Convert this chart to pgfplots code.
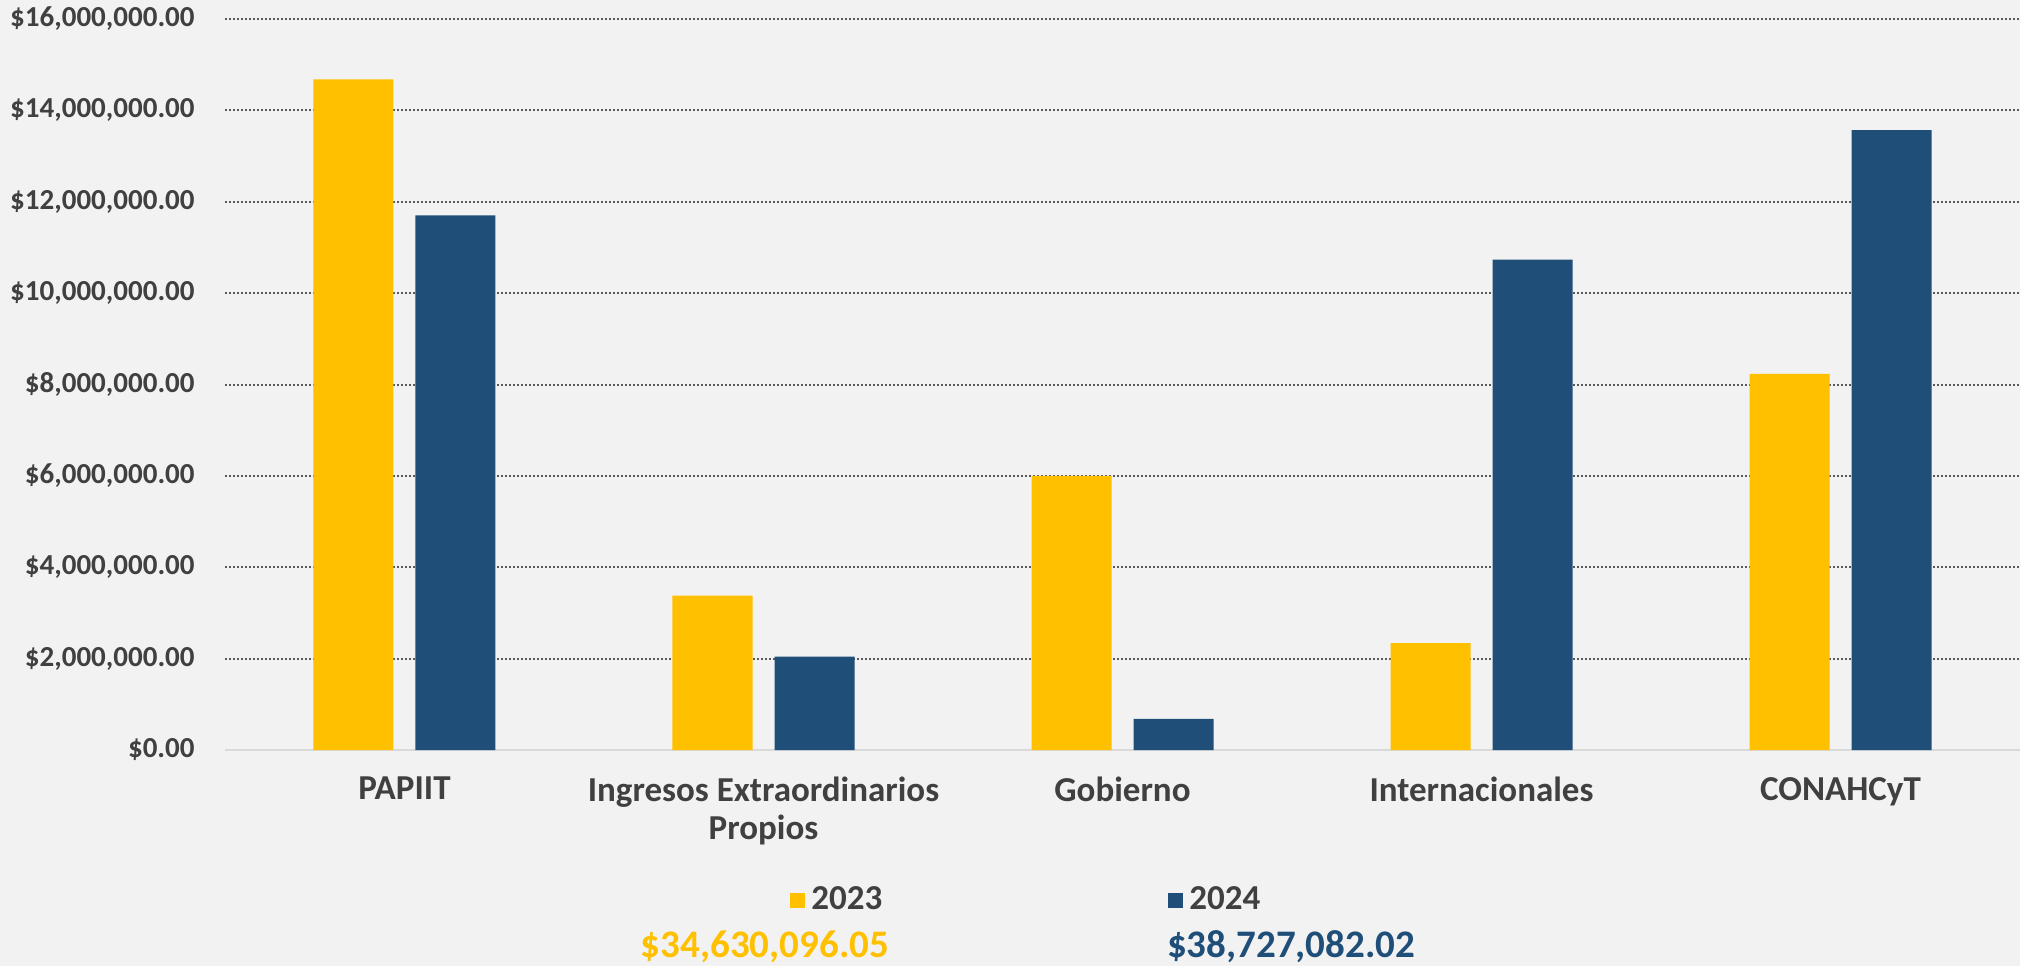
\documentclass[border=0pt]{standalone}
\usepackage{fontspec}
\setmainfont{Carlito}
\usepackage{pgfplots}
\pgfplotsset{compat=1.18}
\definecolor{bg}{HTML}{F2F2F2}
\definecolor{cA}{HTML}{FFC000}
\definecolor{cB}{HTML}{1F4E79}
\definecolor{tgray}{HTML}{404040}
\definecolor{ggray}{HTML}{595959}
\definecolor{agray}{HTML}{D9D9D9}
\begin{document}
\begin{tikzpicture}
\fill[bg] (-112.5pt,-108pt) rectangle (897.5pt,375pt);
\begin{axis}[
  at={(0,0)}, anchor=south west,
  scale only axis, width=897.5pt, height=365.5pt,
  xmin=-0.5, xmax=4.5, ymin=0, ymax=16000000,
  ybar=11pt, bar width=40pt,
  axis x line*=bottom, axis y line*=left,
  x axis line style={draw=agray, line width=1pt},
  y axis line style={draw=none},
  xtick={0,1,2,3,4},
  xticklabels={PAPIIT,{Ingresos Extraordinarios\\Propios},Gobierno,Internacionales,CONAHCyT},
  xticklabel style={font=\fontsize{17.5}{19}\selectfont\bfseries, text=tgray, align=center, yshift=-10pt},
  major tick length=0pt, minor tick length=0pt,
  ytick={2000000,4000000,6000000,8000000,10000000,12000000,14000000,16000000},
  yticklabels={{\$2,000,000.00},{\$4,000,000.00},{\$6,000,000.00},{\$8,000,000.00},{\$10,000,000.00},{\$12,000,000.00},{\$14,000,000.00},{\$16,000,000.00}},
  extra y ticks={0}, extra y tick labels={{\$0.00}},
  extra y tick style={grid=none},
  yticklabel style={font=\fontsize{14.5}{16}\selectfont\bfseries, text=tgray, anchor=east, inner sep=0pt, xshift=-15pt},
  scaled y ticks=false,
  ymajorgrids, major grid style={draw=ggray, line width=1pt, dash pattern=on 1pt off 1pt},
  legend style={at={(0.3148,-0.2052)}, anchor=west, draw=none, fill=none, inner sep=0pt,
    font=\fontsize{17.5}{19}\selectfont\bfseries, text=tgray, legend columns=2,
    /tikz/every even column/.append style={column sep=140pt},
    nodes={inner xsep=3pt}},
  clip=false,
]
\addplot[draw=none, fill=cA, legend image code/.code={\fill[cA] (0pt,-3.75pt) rectangle (7.5pt,3.75pt);}]
  coordinates {(0,14680000) (1,3380000) (2,6000000) (3,2340000) (4,8230000)};
\addplot[draw=none, fill=cB, legend image code/.code={\fill[cB] (0pt,-3.75pt) rectangle (7.5pt,3.75pt);}]
  coordinates {(0,11700000) (1,2045000) (2,680000) (3,10735000) (4,13567000)};
\legend{2023,2024}
\node[anchor=base, font=\fontsize{19.5}{21}\selectfont\bfseries, text=cA] at (rel axis cs:0.3008,-0.2845) {\$34,630,096.05};
\node[anchor=base, font=\fontsize{19.5}{21}\selectfont\bfseries, text=cB] at (rel axis cs:0.5939,-0.2845) {\$38,727,082.02};
\end{axis}
\pgfresetboundingbox
\path (-112.5pt,-108pt) rectangle (897.5pt,375pt);
\end{tikzpicture}
\end{document}
